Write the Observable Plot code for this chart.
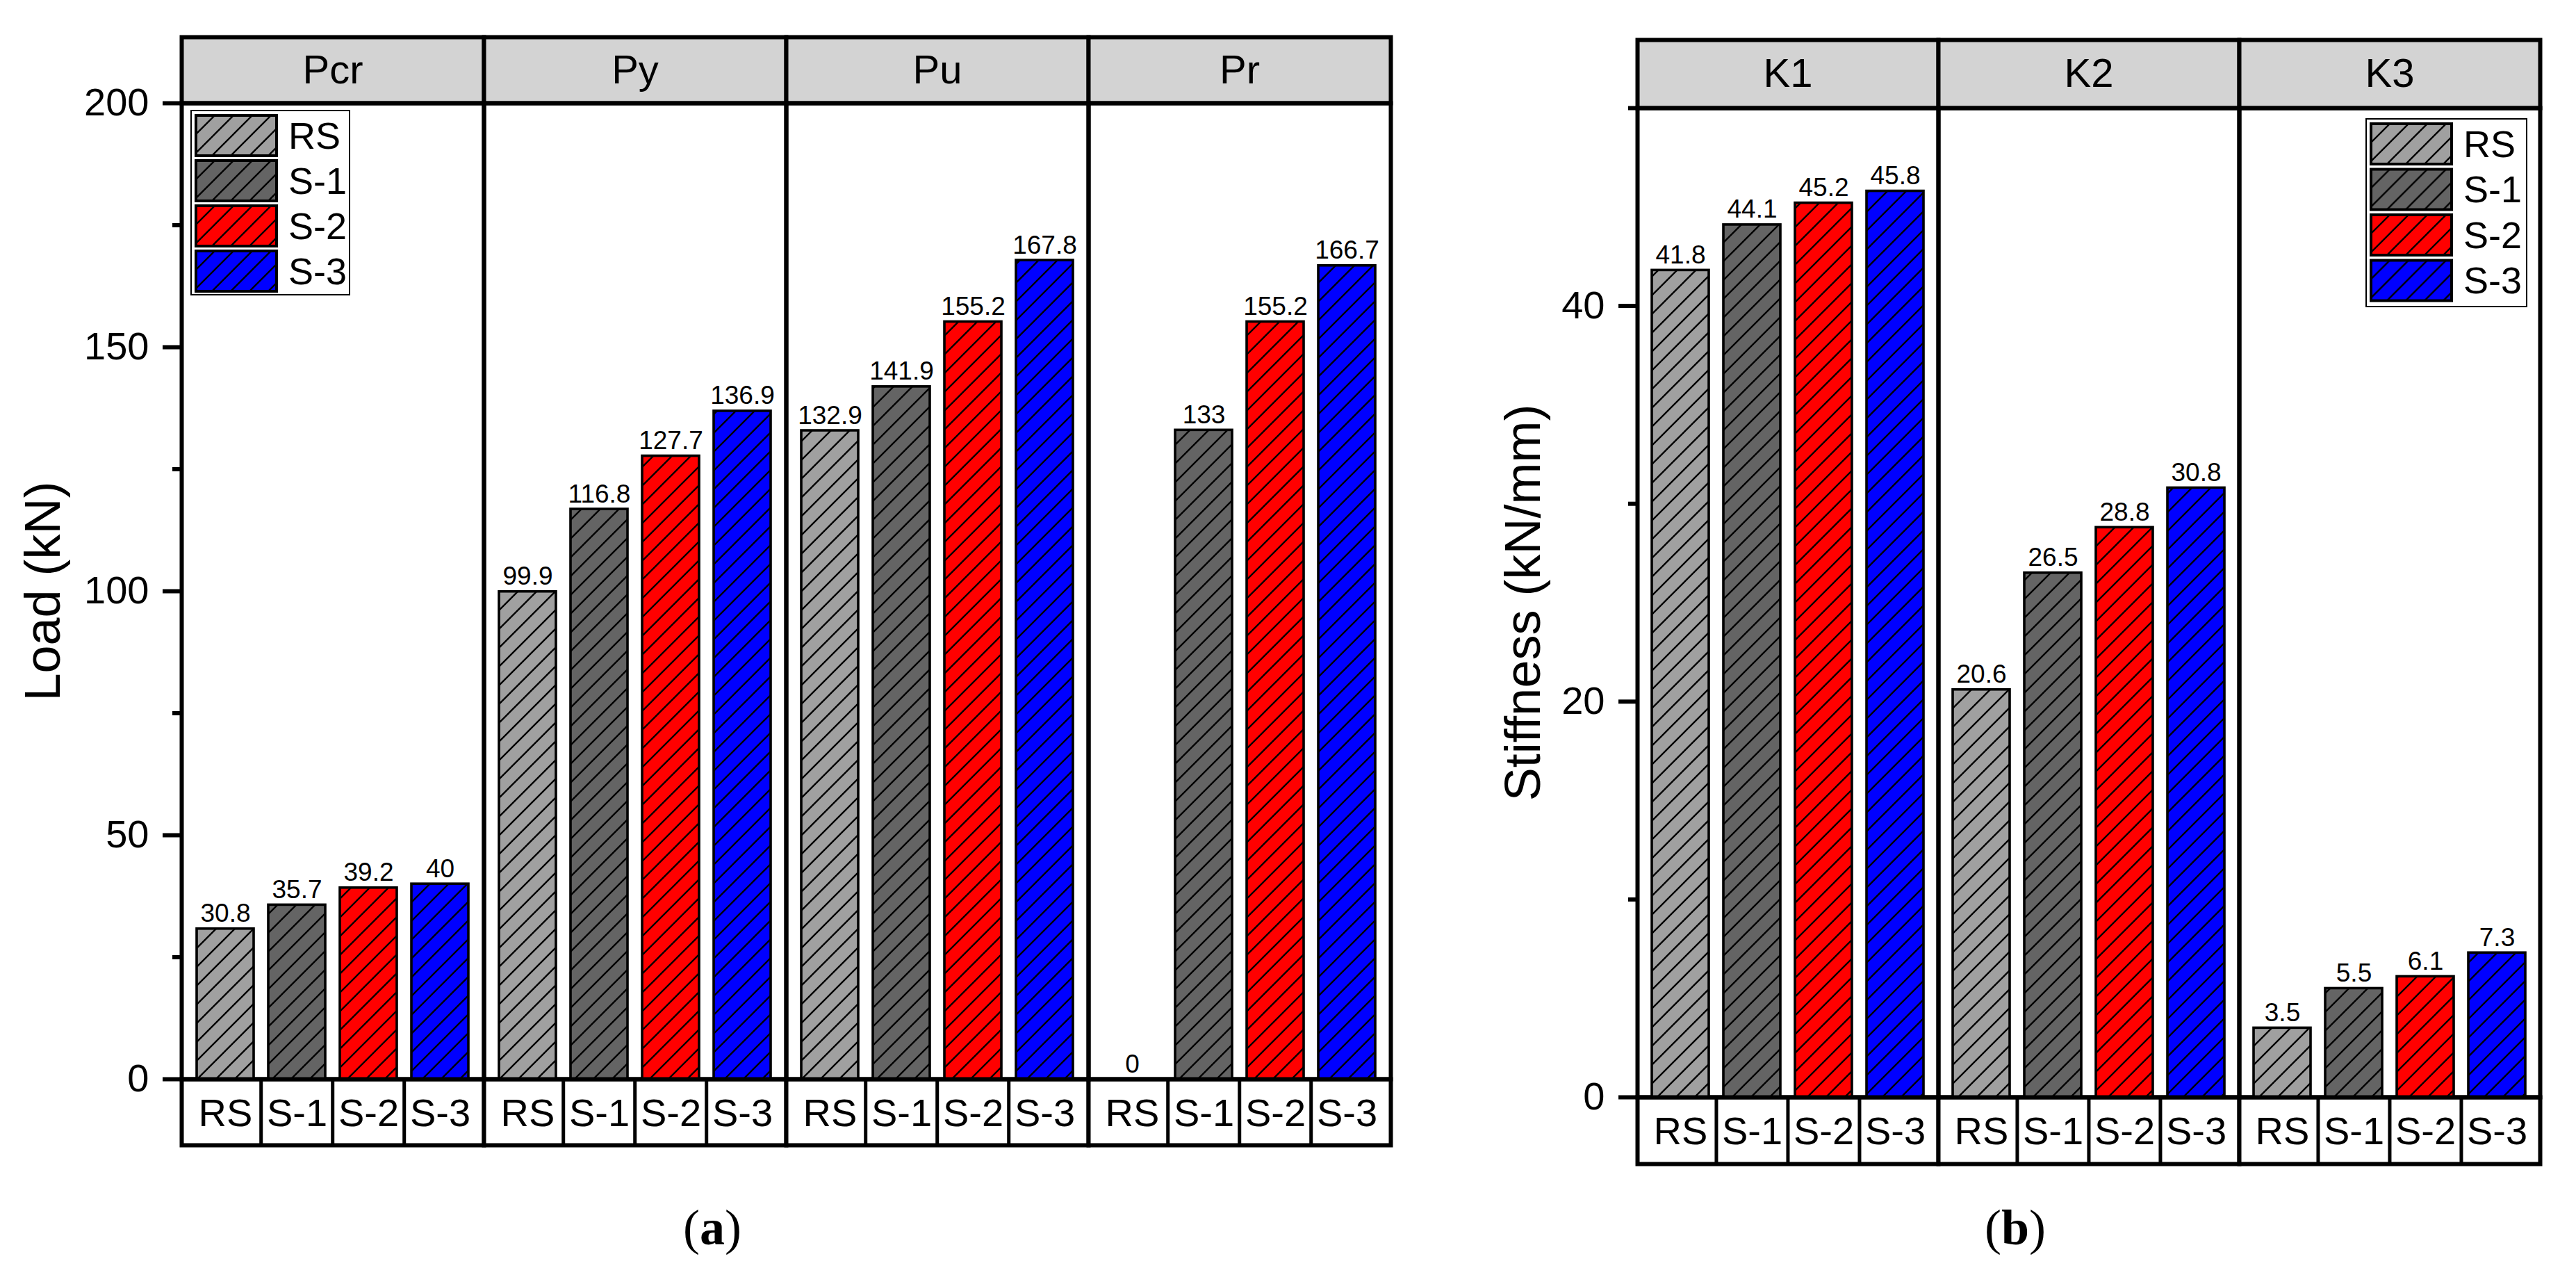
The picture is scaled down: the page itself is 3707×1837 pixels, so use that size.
<!DOCTYPE html>
<html>
<head>
<meta charset="utf-8">
<script src="https://cdn.jsdelivr.net/npm/d3@7"></script>
<script src="https://cdn.jsdelivr.net/npm/@observablehq/plot@0.6"></script>
<style>
  body { margin: 0; background: white; }
  #page { position: relative; width: 3707px; height: 1837px; background: white; overflow: hidden; }
  #page > * { position: absolute; }
  .caption { font-family: "Liberation Serif", "Times New Roman", serif; font-size: 72px; line-height: 1; transform: translateX(-50%); white-space: nowrap; }
  .caption b { font-weight: bold; }
</style>
</head>
<body>
<div id="page">
  <svg width="0" height="0" style="left:0;top:0">
    <defs>
      <pattern id="hatch" patternUnits="userSpaceOnUse" width="27" height="27">
        <path d="M-6.75,6.75L6.75,-6.75M0,27L27,0M20.25,33.75L33.75,20.25" stroke="black" stroke-width="2.4" fill="none"/>
      </pattern>
    </defs>
  </svg>
  <div id="chartA" style="left:0;top:0"></div>
  <div id="chartB" style="left:2100px;top:0"></div>
  <div class="caption" style="left:1025px;top:1730px">(<b>a</b>)</div>
  <div class="caption" style="left:2900px;top:1730px">(<b>b</b>)</div>
</div>
<script>
// specimens and their colours
const specimens = ["RS", "S-1", "S-2", "S-3"];
const specimenColors = ["#a0a0a0", "#646464", "#ff0000", "#0000ff"];

// (a) characteristic loads, kN
const loadGroups = ["Pcr", "Py", "Pu", "Pr"];
const loadRS = [30.8, 99.9, 132.9, 0];
const loadS1 = [35.7, 116.8, 141.9, 133];
const loadS2 = [39.2, 127.7, 155.2, 155.2];
const loadS3 = [40, 136.9, 167.8, 166.7];
const loadTicks = [0, 50, 100, 150, 200];
const loadMinorTicks = [25, 75, 125, 175];

// (b) stiffness, kN/mm
const stiffGroups = ["K1", "K2", "K3"];
const stiffRS = [41.8, 20.6, 3.5];
const stiffS1 = [44.1, 26.5, 5.5];
const stiffS2 = [45.2, 28.8, 6.1];
const stiffS3 = [45.8, 30.8, 7.3];
const stiffTicks = [0, 20, 40];
const stiffMinorTicks = [10, 30, 50];

function toRows(groups, series) {
  return groups.flatMap((group, i) =>
    specimens.map((specimen, j) => ({group, specimen, value: series[j][i]}))
  );
}

function panel(o) {
  const {rows, groups, domain, ticks, minorTicks, label, labelDx,
    width, height, marginLeft, marginRight, marginTop, marginBottom, headerH, rowH} = o;
  const plotH = height - marginTop - marginBottom;
  const facetW = (width - marginLeft - marginRight) / groups.length;
  const step = facetW / (specimens.length + 0.2);
  return Plot.plot({
    width, height, marginLeft, marginRight, marginTop, marginBottom,
    style: {fontFamily: "'Liberation Sans', Arial, sans-serif", background: "white", color: "black", overflow: "visible"},
    fx: {domain: groups, padding: 0, axis: null},
    x: {domain: specimens, padding: 0.2},
    y: {domain},
    color: {domain: specimens, range: specimenColors},
    marks: [
      // category row under the bars
      Plot.frame({fill: "white", stroke: "black", strokeWidth: 6, insetTop: plotH, insetBottom: -rowH}),
      Plot.tickX(rows.filter((d) => d.specimen !== specimens[0]), {
        fx: "group", x: "specimen", dx: -step / 2,
        insetTop: plotH, insetBottom: -rowH, stroke: "black", strokeWidth: 5
      }),
      Plot.axisX({tickSize: 0, tickPadding: 28, fontSize: 56, label: null}),
      // bars: colour, then hatching
      Plot.barY(rows, {fx: "group", x: "specimen", y: "value", fill: "specimen"}),
      Plot.barY(rows, {fx: "group", x: "specimen", y: "value", fill: "url(#hatch)", stroke: "black", strokeWidth: 3.6}),
      Plot.text(rows, {fx: "group", x: "specimen", y: "value", text: (d) => String(d.value), lineAnchor: "bottom", dy: -10, fontSize: 37}),
      // facet header strip
      Plot.frame({fill: "#d3d3d3", stroke: "black", strokeWidth: 6, insetTop: -headerH, insetBottom: plotH}),
      Plot.text(groups, {fx: (d) => d, text: (d) => d, frameAnchor: "top", lineAnchor: "middle", textAnchor: "middle", dy: -headerH / 2, fontSize: 58}),
      Plot.frame({stroke: "black", strokeWidth: 6}),
      Plot.axisY({ticks, tickSize: 27, tickPadding: 20, fontSize: 56, strokeWidth: 6, label: null}),
      Plot.axisY({ticks: minorTicks, tickSize: 13, strokeWidth: 6, tickFormat: () => "", label: null}),
      Plot.text([label], {fx: [groups[0]], text: (d) => d, frameAnchor: "left", textAnchor: "middle", lineAnchor: "middle", rotate: -90, dx: labelDx, fontSize: 72})
    ]
  });
}

function legend(left, top, w, h, inset, rowStep) {
  const svg = d3.select("#page").append("svg")
    .attr("width", w).attr("height", h)
    .style("left", left + "px").style("top", top + "px");
  svg.append("rect").attr("x", 1).attr("y", 1).attr("width", w - 2).attr("height", h - 2)
    .attr("fill", "white").attr("stroke", "black").attr("stroke-width", 2);
  const row = svg.selectAll("g").data(specimens).join("g")
    .attr("transform", (d, i) => `translate(${inset},${inset + i * rowStep})`);
  row.append("rect").attr("width", 116).attr("height", 58).attr("fill", (d, i) => specimenColors[i]);
  row.append("rect").attr("width", 116).attr("height", 58).attr("fill", "url(#hatch)")
    .attr("stroke", "black").attr("stroke-width", 4);
  row.append("text").attr("x", 133).attr("y", 29).attr("dy", "0.35em")
    .attr("font-family", "'Liberation Sans', Arial, sans-serif").attr("font-size", 54)
    .text((d) => d);
}

document.getElementById("chartA").appendChild(panel({
  rows: toRows(loadGroups, [loadRS, loadS1, loadS2, loadS3]),
  groups: loadGroups, domain: [0, 200], ticks: loadTicks, minorTicks: loadMinorTicks,
  label: "Load (kN)", labelDx: -199,
  width: 2021, height: 1700, marginLeft: 261, marginRight: 20, marginTop: 148, marginBottom: 148,
  headerH: 95, rowH: 95
}));

document.getElementById("chartB").appendChild(panel({
  rows: toRows(stiffGroups, [stiffRS, stiffS1, stiffS2, stiffS3]),
  groups: stiffGroups, domain: [0, 50], ticks: stiffTicks, minorTicks: stiffMinorTicks,
  label: "Stiffness (kN/mm)", labelDx: -164,
  width: 1585, height: 1700, marginLeft: 256, marginRight: 30, marginTop: 155, marginBottom: 122,
  headerH: 98, rowH: 96
}));

legend(274, 158, 230, 267, 8, 65);
legend(3404, 170, 233, 272, 8, 65.5);
</script>
</body>
</html>
